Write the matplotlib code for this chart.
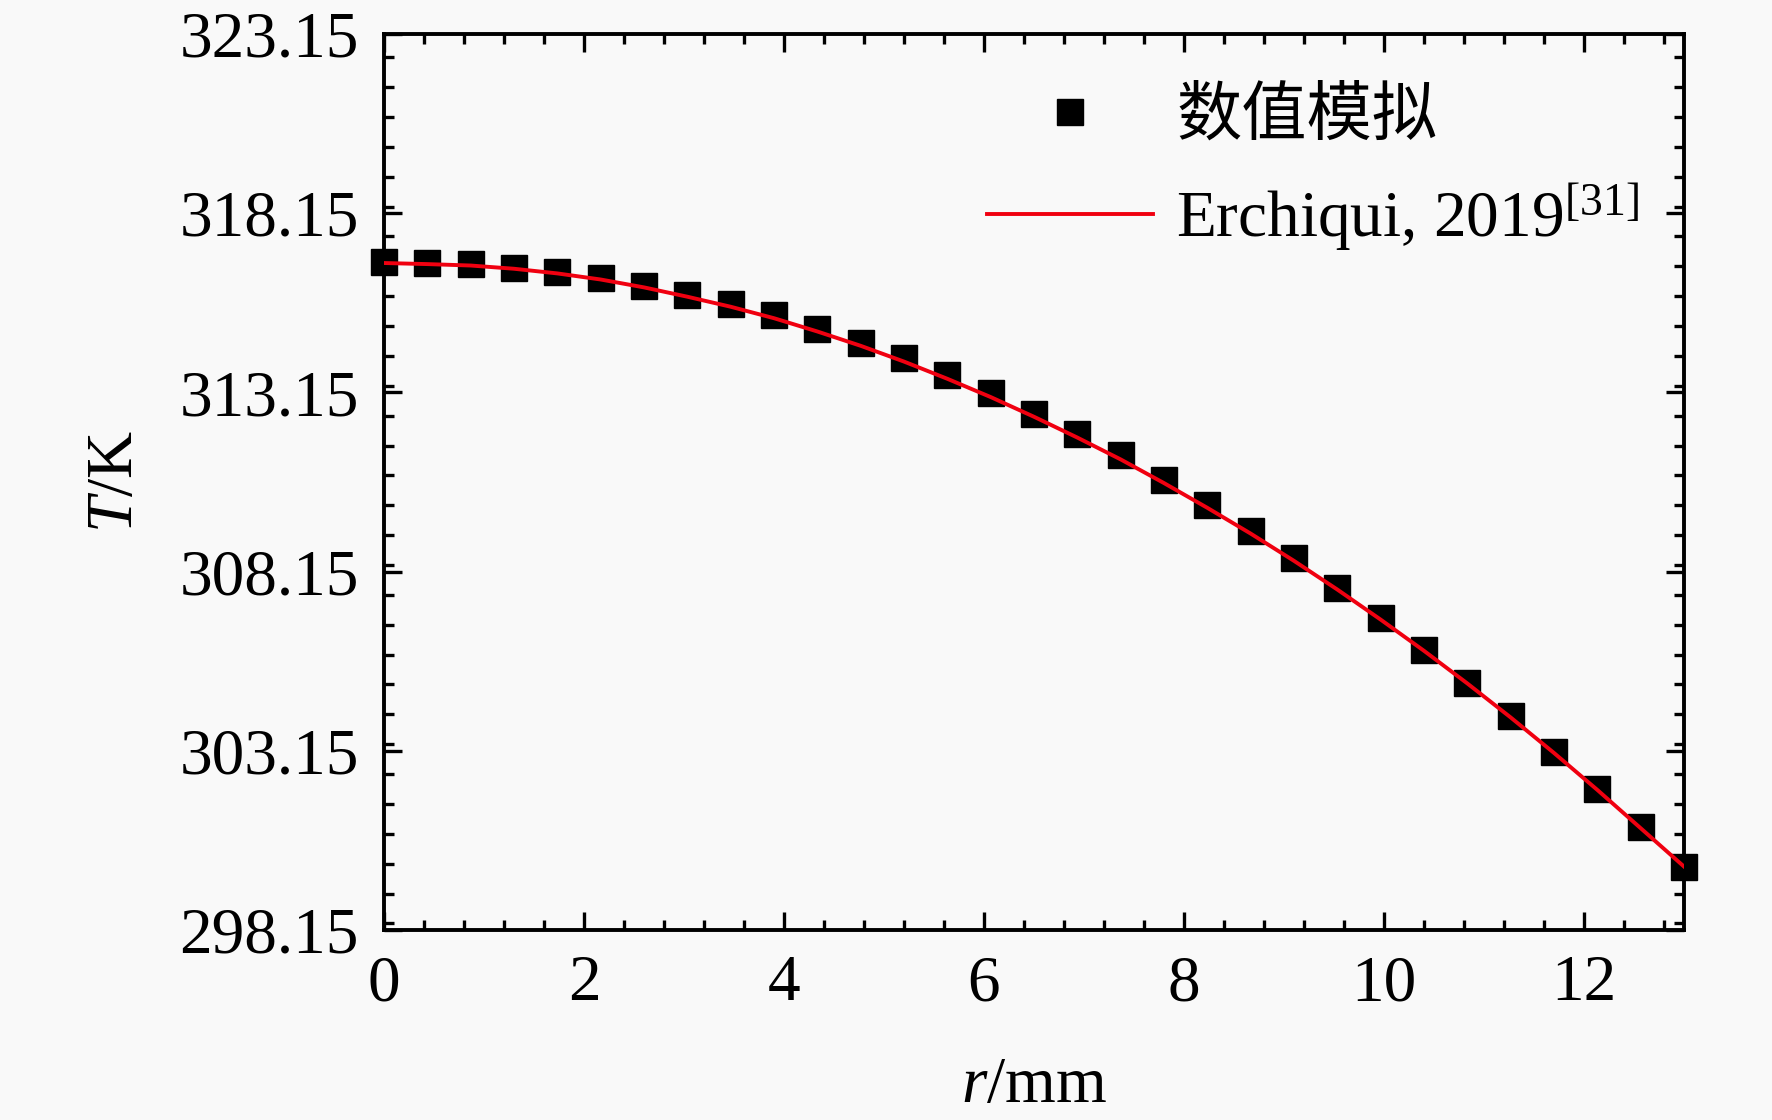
import matplotlib
matplotlib.use("Agg")
import matplotlib.pyplot as plt
from matplotlib.ticker import MultipleLocator, FixedLocator

# ---- data ----
r_mm = [0.0, 0.433, 0.867, 1.3, 1.733, 2.167, 2.6, 3.033, 3.467, 3.9, 4.333,
        4.767, 5.2, 5.633, 6.067, 6.5, 6.933, 7.367, 7.8, 8.233, 8.667,
        9.1, 9.533, 9.967, 10.4, 10.833, 11.267, 11.7, 12.133, 12.567, 13.0]
T_sim = [316.78, 316.75, 316.72, 316.62, 316.50, 316.34, 316.12, 315.87, 315.62,
         315.30, 314.92, 314.54, 314.10, 313.63, 313.12, 312.56, 311.99, 311.39,
         310.70, 310.00, 309.28, 308.52, 307.70, 306.85, 305.97, 305.05, 304.11,
         303.13, 302.09, 301.02, 299.92]
T_ref = [316.76, 316.73, 316.69, 316.60, 316.47, 316.30, 316.08, 315.82, 315.54,
         315.22, 314.85, 314.45, 314.01, 313.53, 313.02, 312.47, 311.89, 311.28,
         310.62, 309.93, 309.21, 308.45, 307.65, 306.81, 305.94, 305.03, 304.08,
         303.09, 302.06, 300.99, 299.92]
y_ticks = [298.15, 303.15, 308.15, 313.15, 318.15, 323.15]
x_ticks = [0, 2, 4, 6, 8, 10, 12]
label_sim = "数值模拟"
label_ref = r"Erchiqui, 2019$^{\mathrm{[31]}}$"

plt.rcParams['font.family'] = ['Liberation Serif', 'Noto Sans CJK SC']
plt.rcParams['mathtext.fontset'] = 'custom'
plt.rcParams['mathtext.rm'] = 'Liberation Serif'
plt.rcParams['mathtext.it'] = 'Liberation Serif:italic'

bg = '#f9f9f9'
fig = plt.figure(figsize=(17.72, 11.2), dpi=100, facecolor=bg)
ax = fig.add_axes([384/1772, 1 - 930/1120, (1684-384)/1772, (930-34)/1120])
ax.set_facecolor(bg)

ax.plot(r_mm, T_ref, color='#f00010', lw=2.8, zorder=3, label=label_ref)
ax.plot(r_mm, T_sim, linestyle='none', marker='s', ms=18.5, color='black',
        zorder=2, label=label_sim, clip_on=False)

ax.set_xlim(0, 13)
ax.set_ylim(298.15, 323.15)
ax.xaxis.set_major_locator(FixedLocator(x_ticks))
ax.xaxis.set_minor_locator(MultipleLocator(0.4))
ax.yaxis.set_major_locator(FixedLocator(y_ticks))
ax.yaxis.set_minor_locator(MultipleLocator(5/6))
ax.set_xticklabels([str(v) for v in x_ticks])
ax.set_yticklabels([f"{v:.2f}" for v in y_ticks])

for s in ax.spines.values():
    s.set_linewidth(2.8)
ax.tick_params(which='both', direction='in', top=True, right=True,
               labelsize=47, width=2.4)
ax.tick_params(which='major', length=13)
ax.tick_params(which='minor', length=7)
ax.tick_params(axis='y', pad=18)
ax.tick_params(axis='x', pad=18)

ax.set_xlabel(r"$\mathit{r}$/mm", fontsize=47, labelpad=30)
ax.set_ylabel(r"$\mathit{T}$/K", fontsize=47, labelpad=24)

h, l = ax.get_legend_handles_labels()
leg = ax.legend(h[::-1], l[::-1], loc='upper left',
                bbox_to_anchor=((987 - 384) / 1300, 1 - (88 - 34) / 896),
                frameon=False, fontsize=47, handlelength=2.55,
                handletextpad=0.35, labelspacing=0.5, borderaxespad=0,
                borderpad=0)

fig.savefig("out.png", dpi=100, facecolor=bg)
